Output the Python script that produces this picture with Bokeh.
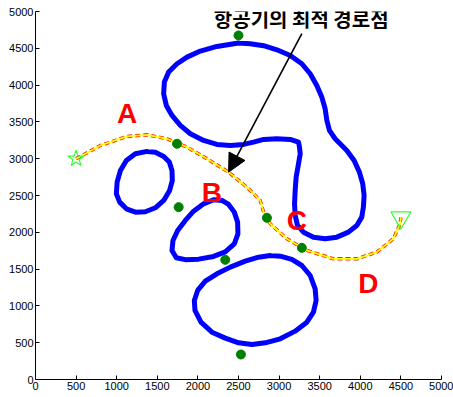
from bokeh.plotting import figure
from bokeh.models import Range1d, FixedTicker, Arrow, NormalHead
from bokeh.core.properties import value
from bokeh.embed import file_html
from bokeh.resources import INLINE

# Obstacle (threat region) outlines, closed polygons
obs1_x = [2501, 2645, 2809, 2973, 3137, 3280, 3383, 3464, 3526, 3567, 3588, 3620, 3690, 3834,
          3924, 3989, 4030, 4047, 4038, 4018, 3957, 3854, 3711, 3567, 3424, 3300, 3227, 3198,
          3190, 3198, 3210, 3239, 3260, 3251, 3239, 3137, 2973, 2809, 2685, 2562, 2399, 2234,
          2070, 1907, 1784, 1681, 1611, 1578, 1587, 1640, 1743, 1866, 2030, 2234, 2501]
obs1_y = [4571, 4562, 4535, 4480, 4403, 4290, 4154, 3995, 3837, 3678, 3520, 3384, 3271, 3112,
          2976, 2818, 2659, 2501, 2342, 2206, 2093, 2002, 1934, 1912, 1934, 2002, 2093, 2229,
          2387, 2569, 2750, 2931, 3067, 3157, 3225, 3262, 3271, 3262, 3225, 3194, 3180, 3194,
          3248, 3339, 3452, 3588, 3724, 3882, 4041, 4177, 4290, 4380, 4462, 4525, 4571]

obs2_x = [1374, 1476, 1579, 1648, 1681, 1685, 1652, 1579, 1476, 1353, 1230, 1119, 1037, 996,
          1005, 1046, 1119, 1230, 1374]
obs2_y = [3099, 3089, 3031, 2954, 2840, 2704, 2569, 2433, 2333, 2279, 2274, 2319, 2410, 2523,
          2682, 2840, 2976, 3067, 3099]

obs3_x = [2070, 2193, 2296, 2378, 2448, 2489, 2493, 2448, 2337, 2193, 2009, 1845, 1734, 1681,
          1693, 1751, 1845, 1947, 2070]
obs3_y = [2387, 2442, 2433, 2378, 2274, 2138, 1980, 1844, 1735, 1672, 1635, 1628, 1655, 1753,
          1889, 2025, 2161, 2287, 2387]

obs4_x = [2891, 3014, 3157, 3280, 3383, 3444, 3456, 3423, 3342, 3198, 3014, 2829, 2665, 2501,
          2337, 2173, 2038, 1964, 1956, 1997, 2091, 2234, 2399, 2583, 2747, 2891]
obs4_y = [1685, 1676, 1631, 1549, 1413, 1232, 1074, 915, 779, 657, 553, 498, 476, 498,
          562, 643, 779, 938, 1074, 1210, 1336, 1436, 1527, 1608, 1662, 1685]

# Sensor / radar sites
site_x = [2500, 1743, 1763, 2337, 2850, 3280, 2530]
site_y = [4675, 3203, 2342, 1626, 2197, 1789, 340]

# Optimal flight path waypoints
path_x = [500, 800, 1128, 1374, 1620, 1866, 2112, 2378, 2604, 2768, 2809, 2891, 3096,
          3342, 3669, 3957, 4203, 4407, 4490, 4500]
path_y = [3000, 3180, 3302, 3325, 3271, 3157, 2999, 2817, 2613, 2433, 2274, 2116, 1912,
          1753, 1640, 1640, 1730, 1912, 2116, 2200]

start_x, start_y = [500], [3000]
goal_x, goal_y = [4500], [2200]

# Region labels
label_text = ["A", "B", "C", "D"]
label_x = [1128, 2173, 3219, 4100]
label_y = [3611, 2546, 2161, 1300]

# Annotation
note_text = ["항공기의 최적 경로점"]
note_x = [3272]
note_y = [4910]
arrow_start = (3280, 4698)
arrow_end = (2378, 2817)

ticks = [0, 500, 1000, 1500, 2000, 2500, 3000, 3500, 4000, 4500, 5000]

p = figure(width=453, height=397, output_backend="svg", toolbar_location=None,
           x_range=Range1d(0, 5000), y_range=Range1d(0, 5000),
           min_border_left=35, min_border_right=12, min_border_top=11, min_border_bottom=18)
p.outline_line_color = None
p.xgrid.visible = False
p.ygrid.visible = False
p.background_fill_color = "white"
p.border_fill_color = "white"

for ax in (p.xaxis[0], p.yaxis[0]):
    ax.ticker = FixedTicker(ticks=ticks)
    ax.major_tick_in = 4
    ax.major_tick_out = 0
    ax.minor_tick_line_color = None
    ax.axis_line_color = "black"
    ax.major_tick_line_color = "black"
    ax.major_label_text_font = "Liberation Sans"
    ax.major_label_text_font_size = "11px"
    ax.major_label_text_color = "black"
    ax.major_label_standoff = 2

for ox, oy in ((obs1_x, obs1_y), (obs2_x, obs2_y), (obs3_x, obs3_y), (obs4_x, obs4_y)):
    p.line(ox, oy, line_color="#0000ff", line_width=5, line_join="round", line_cap="round")

p.line(path_x, path_y, line_color="#ff2000", line_width=3.4, line_dash="5 3", line_join="round")
p.line(path_x, path_y, line_color="#ffff00", line_width=1.8, line_join="round")

p.scatter(site_x, site_y, marker="circle", size=9, fill_color="#008000", line_color="#008000")

p.scatter(start_x, start_y, marker="star", size=17, fill_color=None, line_color="#33ff33", line_width=1.2)
p.scatter(goal_x, goal_y, marker="inverted_triangle", size=20, fill_color=None,
          line_color="#33ff33", line_width=1.2)

p.text(label_x, label_y, text=label_text, text_color="#ff0000", text_font=value("Liberation Sans"),
       text_font_style="bold", text_font_size="28px", text_align="center", text_baseline="middle")

p.text(note_x, note_y, text=note_text, text_color="black", text_font=value("Noto Sans CJK KR"),
       text_font_style="bold", text_font_size="20px", text_align="center", text_baseline="middle")

p.add_layout(Arrow(end=NormalHead(size=18, fill_color="black", line_color="black"),
                   x_start=arrow_start[0], y_start=arrow_start[1],
                   x_end=arrow_end[0], y_end=arrow_end[1],
                   line_color="black", line_width=1.6))

open("out.html", "w").write(file_html(p, INLINE))
